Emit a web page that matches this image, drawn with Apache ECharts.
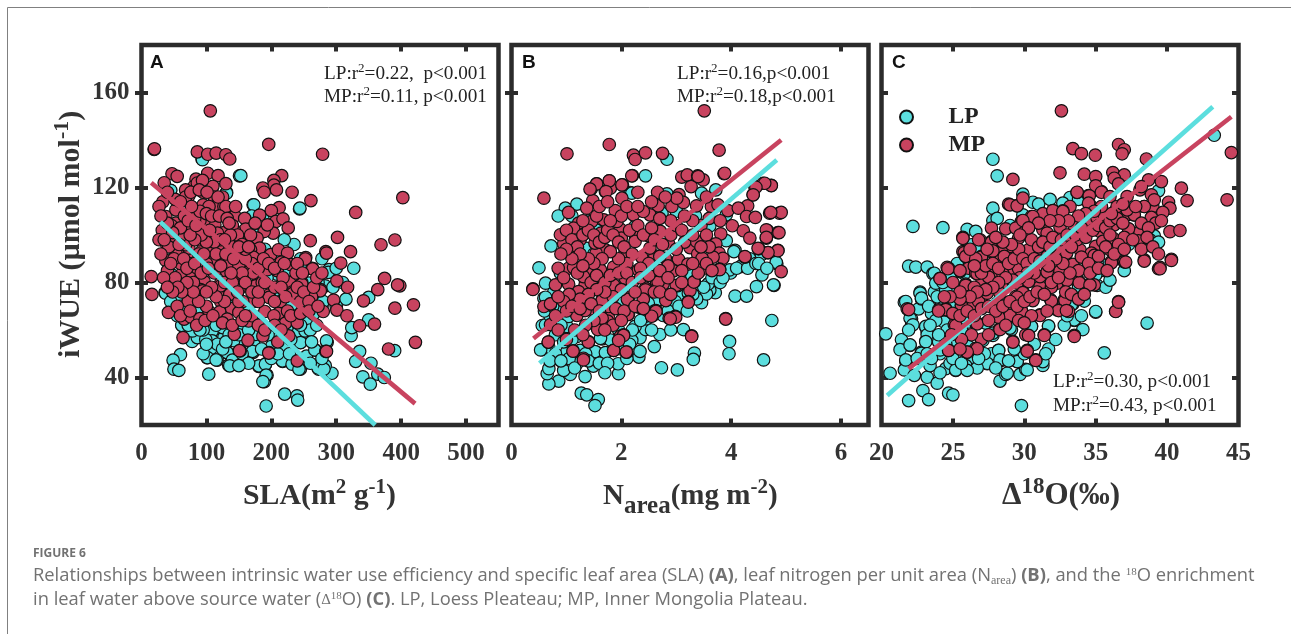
<!DOCTYPE html>
<html><head><meta charset="utf-8">
<style>html,body{margin:0;padding:0;background:#fff}#c{width:1291px;height:634px}</style>
<script src="https://cdn.jsdelivr.net/npm/echarts@6/dist/echarts.min.js"></script>
</head><body><div id="c"></div>
<script>
const slaMP=[[19.5,136],[86,135],[102,134],[115,134.5],[130,133.8],[136,132],[279,134],[47,125.8],[55,124.7],[35,122],[84,123.5],[102,126],[118,125],[130,121.6],[81,120.5],[110,120.5],[73,116.5],[95,118],[68,119],[112,116],[86,121.9],[94,123],[216,125],[204,123],[204,121],[187,119.8],[189,118],[208,119],[232,118],[261,114.5],[212,111.5],[200,110.3],[207,105.7],[218,106.8],[182,108.4],[226,103],[203,100.8],[189,101.5],[194,104.3],[260,97.6],[284,93],[33,114],[27,112],[37.4,107.8],[53,110.6],[53,105],[32,102],[27,98],[38.4,96.3],[68,101],[78.5,104.3],[86,102],[95,112.7],[114,112],[127,112],[144,108],[159,107],[160.5,102.5],[143,102],[127,101],[113,104.3],[96.4,106],[78.5,110.6],[68,108],[53,99.4],[45,98],[178,98.7],[182,94.5],[168,93.8],[199,91.7],[211,93.8],[225,92.4],[172,90.7],[215.4,88.6],[253,90.5],[263,86],[230,87.5],[209,85],[194,85.4],[228,80],[247,80],[276,77],[232,76],[60.5,93],[37.4,89.3],[76,91],[117,89.6],[40,85],[63,84],[76,84.7],[96.4,80.4],[131,84.7],[68,77],[91,77],[122,79.7],[176,79],[161,79],[145,82.5],[153,79],[15,82.5],[16,75],[196.5,74.8],[122,75],[86,86],[107,89.6],[135,88],[150,86.8],[166,84.7],[94,93.8],[107,94.5],[125,95],[140,96.6],[158,98],[104,99.4],[89,98],[73,94.5],[53,92.4],[68,95.9],[117,100.8],[68,76.8],[41.5,67.4],[94,76.5],[84,72.3],[122,72],[104,67.8],[120.5,67.6],[139,69],[65.6,64.6],[76,65.5],[90,64.8],[132,64.6],[165,63.8],[150,67.4],[173,72],[196.5,73.7],[214,72],[190,67.8],[211,67],[225,68],[238.5,66],[222,62.9],[240,63],[280,67.8],[253,71],[275.4,76.5],[247,79.3],[233,75.4],[176,78.6],[122,78.6],[150,77],[64,56.8],[143,58.2],[187,57.5],[164,55.7],[210,55],[152,51.2],[196.5,50.5],[240,47],[284,51],[227,57.5],[106,152.3],[20,136.3],[196,138.2],[330,109.5],[402.6,115.7],[302,99],[285,92.4],[322,93],[369,95.9],[390.4,97.9],[307,88.2],[301,80.7],[317.5,78],[374.5,81.7],[398,78.6],[394.5,79],[364,77],[342,72.3],[390.4,69.2],[419,70.6],[296,72.6],[301,68.4],[316.5,66],[336,61.8],[359,62.5],[380.6,52],[422,54.8],[285,51],[252.4,89.9],[263.7,85.7],[151,51.3],[196,50.3],[100,88],[112,84],[128,80],[80,80],[60,88],[52,82],[72,72],[100,70],[136,75],[156,72],[170,88],[186,80],[205,78],[218,82],[238,84],[148,92],[120,108],[135,96],[90,106],[104,112],[160,90],[180,72],[204,66],[245,72],[262,74],[46,104],[62,100],[74,88],[88,92],
[68,116],[76,118],[89,119],[101,118],[125,116],[130,112],[66,108],[70,104],[82,107],[90,110],[100,109],[108,108],[120,108],[132,107],[140,104],[148,100],[155,96],[160,94],[137,100],[122,98],[112,97],[100,97],[92,100],[82,98],[75,100],[60,103],[48,101],[40,105],[42,95],[50,90],[58,96],[65,90],[70,86],[82,88],[92,84],[103,86],[115,92],[122,87],[130,92],[142,90],[150,95],[172,84],[180,86],[188,90],[196,88],[205,86],[220,88],[240,88],[248,84],[155,84],[160,80],[170,76],[180,76],[190,80],[205,72],[215,78],[222,74],[240,78],[250,76],[258,72],[265,78],[140,80],[128,72],[115,74],[108,78],[100,76],[88,72],[80,76],[70,80],[62,76],[56,78],[48,76],[55,70],[60,66],[75,68],[85,62],[98,64],[110,66],[125,63],[140,62],[155,64],[170,66],[180,62],[190,60],[205,62],[215,60],[230,66],[245,67],[258,68],[272,70],[270,82],[278,84],[150,72],[160,66],[135,105],[145,112],[168,100],[175,105],[52,115],[40,118],[30,108],[35,98],[30,92],[45,88],[34,82],[40,78],[77,112],[60,114],[72,106],[118,116],[105,102],[96,92],[84,104],[128,98],[138,84],[148,76],[165,95]];
const slaLP=[[93.3,132],[151,124.9],[172,112.7],[243.5,111],[131,118],[44.6,118.7],[185.6,107.8],[62.6,112.7],[68,107.8],[153,125],[94,131.7],[45,118.8],[131,117.6],[173,112.7],[244,111.3],[187,106.8],[63,113.4],[36.4,75.8],[53,74],[58,80.4],[48,83],[243,86.8],[289,85.4],[258,79.7],[288,84.3],[327,86],[283,78.6],[315,73],[350,73.7],[268,74.4],[278,70],[350,64.3],[323,57.6],[324,61],[286,54.8],[336,51],[330,46.8],[353.5,46],[268,51.5],[364,41.4],[374,40],[341,40.3],[352.5,37.2],[390,51.3],[293.4,41.8],[283,45],[273,43.5],[244.7,43.5],[252.4,46.3],[237,45.6],[217.5,46.8],[245,54.8],[221.6,53.4],[252.4,59.7],[237,58.3],[191,45.6],[180.6,44.7],[172,50.6],[193.4,41],[189.3,38.3],[103.6,41.4],[140.6,47.7],[134.4,45.2],[116.5,47.3],[101,48.4],[107,52.2],[60,49.6],[48.7,47.3],[50,43.5],[57.5,43],[220.6,33],[239.6,32.3],[240.6,30.5],[192,28],[133,50.3],[119,49.8],[85.7,56.9],[78,55.2],[62.6,61.8],[78,60.4],[106,60.4],[121.6,56.9],[126.7,60.4],[152.4,54],[173,54],[201,53.4],[209,56.2],[37,75.5],[53.4,73],[47,80.7],[62.6,79.3],[78,68.8],[96,64.6],[106,58.3],[142,55.5],[183,59.7],[224,61],[255,64],[265,66.7],[224,85],[244.7,87],[209,83.5],[193.4,82],[203.7,73.7],[178,65.3],[142,73.7],[160,69.5],[86,56.8],[78.5,59.6],[62,62],[107,52.2],[101.5,48.4],[115,47.4],[132,50.5],[140,47.3],[136,44.9],[127,56.8],[109,59.6],[125,61],[171,51],[181,44.9],[191,45.6],[192,41],[187,38.3],[217,47],[232,45.6],[242.6,43.5],[272,44],[254,49],[267,51.6],[245,54.7],[252,59.6],[285,55.4],[222,53.3],[184,62.4],[155.4,59.6],[176,58.2],[281,43.5],[109,55.4],[117,54],[99,56],
[70,70],[60,70],[85,68],[95,60],[115,62],[135,58],[150,58],[165,60],[195,58],[210,62],[230,56],[260,60],[270,62],[280,72],[295,78],[300,86],[272,80],[258,86],[278,90],[245,90],[210,92],[190,94],[235,96],[220,98],[230,70],[245,62],[262,55],[278,48],[260,46],[300,70],[310,80],[155,50],[165,46],[185,52],[150,45],[125,52],[95,50],[90,60],[72,62],[55,66],[45,72],[40,82],[45,92],[100,54],[130,55],[200,48],[210,50],[228,50],[50,100],[65,115],[180,100],[170,108]];
const nMP=[[.59,115.5],[1.04,109.5],[1.45,119.4],[1.55,121.5],[1.78,122.8],[1.71,118.3],[1.8,119.7],[2.02,121.1],[2.01,115.5],[2.2,125],[2.3,118],[2.66,118],[2.67,112.3],[1.48,114.5],[1.37,111.3],[1.89,110.3],[1.46,105.7],[1.22,105],[1.13,102.9],[2.22,108.5],[2.52,108.5],[2.4,109.9],[2.92,112],[3.1,124.4],[3.2,125.3],[3.39,124.9],[3.49,123.2],[3.27,120.4],[3.87,125.8],[3.05,117],[3.13,113.7],[3.01,115.5],[3.37,112.3],[3.64,112],[3.76,112.7],[3.94,110.3],[4.3,112.3],[4.13,111.3],[4.28,107.8],[4.44,107.4],[4.02,103.9],[4.22,101.8],[4.34,98.7],[4.7,109.2],[4.88,109.2],[4.43,120.4],[4.58,121.8],[4.73,120.9],[4.4,117],[4.66,101.9],[4.85,101],[4.64,98.7],[4.5,94.2],[4.67,92.6],[4.85,93.5],[4.91,84.6],[3.81,100.5],[3.72,96.3],[3.78,92.4],[3.85,90.2],[3.67,90.7],[3.79,85.6],[4.25,90.7],[3.25,94.7],[3.37,97.3],[3.39,92],[3.47,90.2],[3.04,89.8],[3.21,87.7],[2.95,84.9],[3.33,80.4],[3.03,78.7],[3.25,76.6],[3.22,72],[2.64,80.4],[2.76,79.4],[2.44,77.6],[2.81,72.7],[2.63,68.2],[2.57,66],[2.98,65.7],[2.87,65],[3.9,64.8],[3.28,57.5],[2.04,58],[1.86,51.4],[2.1,50.7],[1.4,55.1],[1.12,51.2],[.67,54.9],[1.31,48.1],[1.57,60.5],[1.98,57.3],[2.13,66.7],[1.19,66.4],[.71,70.9],[.59,69.9],[.39,77.3],[.8,79],[1.04,79.3],[1.13,73],[1.34,68.5],[1.65,72.7],[1.77,65],[2.13,73.8],[1.86,79],[1.49,81.1],[2.07,81.8],[1.34,79],[1.04,86],[1.13,86.3],[1.37,88.8],[1.71,93.7],[1.54,92.4],[2.06,92.1],[1.86,86.5],[1.63,100.8],[1.98,102.5],[1.25,98],[.95,96.3],[1.15,93.7],[.89,100.1],[2.48,99.8],[2.25,100.1],[2.71,101.5],[2.86,96.3],[2.61,91.2],[2.37,90.7],[2.25,97.3],[2,98.7],[2.52,94.5],[2.8,90.2],[2.31,85.3],[1.52,96.6],[1.68,106.4],[1.92,105.7],[1.43,85.3],[1.31,82.5],[1.62,85.3],[1.22,76.2],[1.77,69.9],[1.49,68.5],[1.77,73.4],[3.51,152.3],[1.78,138.1],[1.01,134.2],[2.22,133.6],[2.25,131.8],[2.44,134.6],[2.75,134.4],[3.78,135.7],[3.88,126],[2.19,124.9],[1.78,122.8],[1.55,121.5],[1.43,119.3],[2.01,121.1],[1.72,118.3],[4.73,120.8],[4.61,121.8],[4.45,120.1],[4.4,116.9],[3.4,124.6],[4.91,109.5],[4.72,109.5],[4.64,102.2],[4.87,101],[4.64,99],[4.85,93.4],[4.67,92.6],[4.49,94.4],[4.25,90.9],[.39,77.1],[.71,71],[.67,54.9],[1.12,51.1],[1.31,47.4],[1.4,54.9],[1.57,60.2],[1.86,51.4],[2.09,50.7],[2.04,57.7],[1.95,55.6],[2.99,65.4],[2.89,64.7],[3.22,71.7],[3.32,80.2],[3.28,57.3],[3.9,64.6],[3.79,85.4],[1.19,66.1],[.71,62.3],[2.63,67.8],[2.55,65.8],[2.81,72.4],[2.44,76.9],[2.11,72.9],[2.12,66.5],[1.75,63.7],[1.34,68.2],[1.65,72.4],[2.67,80.2],[3,78.8],
[1,102],[1.1,98],[1.2,95],[1.3,100],[1.4,102],[1.5,100],[1.6,97],[1.7,99],[1.75,102],[1.85,100],[1.95,97],[2.05,95],[2.15,102],[2.3,104],[2.4,100],[2.55,103],[2.6,98],[2.75,96],[2.9,100],[3,104],[3.1,102],[3.15,97],[3,94],[3.3,100],[3.45,104],[3.55,100],[3.6,95],[3.5,86],[3.4,84],[3.1,85],[2.85,87],[2.7,91],[2.5,88],[2.35,86],[2.2,92],[2.1,88],[1.95,90],[1.8,93],[1.65,90],[1.5,88],[1.4,90],[1.25,92],[1.1,90],[1,94],[.9,92],[.85,86],[.95,82],[1.2,84],[1.3,87],[1.45,80],[1.55,83],[1.7,80],[1.8,83],[1.95,84],[2.1,84],[2.2,80],[2.35,82],[2.5,83],[2.7,85],[2.85,82],[2.6,76],[2.4,73],[2.25,76],[2,77],[1.85,74],[1.7,76],[1.55,77],[1.4,75],[1.25,73],[1.05,75],[.95,72],[.85,74],[1,68],[1.1,70],[1.25,69],[1.45,71],[1.6,68],[1.9,69],[2.05,68],[2.25,70],[2.4,69],[1.65,65],[1.5,64],[1.35,62],[1.15,60],[1.85,62],[2,64],[1.7,60],[1.3,58],[1,56],[.85,60],[.8,66],[2.7,76],[2.9,75],[3.1,80],[3.3,88],[3.55,88],[3.65,85],[3.45,95],[3.3,106],[3.15,108],[2.9,106],[2.7,107],[2,108],[1.8,106],[1.55,108],[1.3,106],[2.1,112],[2.3,112],[1.6,112],[1.75,114],[2.55,114],[2.8,116],[3.6,107],[3.8,106],[3.55,116]];
const nLP=[[.5,86.2],[3.59,79.5],[3.71,75.7],[3.46,71.5],[3.99,84],[4.56,83.2],[4.46,78.3],[4.78,78.8],[4.07,74.3],[4.28,74.3],[4.83,87.9],[4.74,64],[3.97,55.2],[3.96,50],[4.59,47.4],[3.33,50.3],[3.31,47.6],[2.73,44.1],[3.02,43.2],[3.13,60.2],[2.7,58.1],[2.34,56.7],[2.44,60.2],[2.32,48.6],[2.34,51],[1.95,41.6],[1.94,45.8],[1.49,44.8],[1.34,40.4],[1.07,41.3],[.86,38.5],[.68,37.3],[.65,41.6],[.68,43.7],[.89,47.2],[.56,51.7],[1.27,33.4],[1.37,32.7],[1.58,30.7],[1.52,28.2],[1.19,45.8],[.95,43],[1.71,50.3],[1.54,50.7],[1.65,56.3],[2.19,55.6],[.59,73.4],[.77,76],[.56,61.9],[.68,52.8],[.89,58.4],[1.1,51.4],[1.25,51.4],[2.46,64.7],[2.76,66.1],[2.31,69.6],[2.89,73.1],[2.64,71.7],[3.43,85.1],[3.1,74.5],[3.61,76.7],[3.55,75.2],[3.37,73.1],[4.19,86.9],[4.34,90],[4.07,93.5],[4.52,93.5],[2.83,131.9],[2.44,124.9],[3.46,117.6],[3.72,119],[2.83,117.3],[2.16,117.9],[1.19,113],[.98,111.3],[1.42,106],[.72,95.4],[2.73,108.5],[3.91,108.5],[3.61,103.8],[3.91,97.6],[4.05,93],[2.25,103.6],[1.37,94.4],[4.82,88.5],[4.17,86.7],[3.97,85.3],[.62,79.7],[.62,73.8],[.89,84],[2.74,109.2],[4.55,91.7],[4.77,79],[3.58,79.4],[3.43,85.3],[3.28,83.2],[3.22,75.5],[2.98,72],[2.67,72.7],[2.49,71.3],[2.31,69.9],[2.01,71.3],[2.43,65.7],[2.25,61.5],[1.95,60],[1.8,55.8],[1.62,56.5],[1.52,50.9],[1.71,50.5],[.86,58.7],[1.01,61.5],[.62,62.2],[.77,64.3],[.53,51.6],[1.01,51],[2.19,117.6],[.86,68.5],[1.04,65.7],[1.19,57.3],
[.7,66],[.8,58],[.95,55],[1.1,56],[1.35,50],[1.4,47],[1.6,46],[1.75,46],[2,52],[2.15,54],[2.2,60],[2.35,64],[2.55,60],[2.6,68],[2.85,68],[3.05,70],[3.2,68],[3.3,75],[3.5,78],[3.65,82],[3.8,80],[3.85,82],[4.1,86],[4.3,86],[4.45,88],[.6,68],[.75,70],[.9,62],[1.05,48],[1.15,44],[.8,50],[.7,47],[.9,47],[1.7,42],[2.1,48],[2.6,53],[1.5,92],[.85,108],[1.1,108],[1.25,103],[.95,100],[1.55,102],[3,110],[3.35,108],[4.5,88],[4.65,86],[2.9,60]];
const o18MP=[[28.9,113],[29.5,112.4],[33.7,117.9],[34.5,116.6],[35.4,118.3],[34.6,112.7],[33.2,112],[32.7,110.2],[32,110.2],[31.3,109],[30.5,107.8],[29.8,105.7],[28.7,102.6],[29.4,102.9],[30,101.1],[31.3,102.2],[31.7,99.4],[32.5,103.3],[33.5,103.6],[34.4,105.7],[35.1,107.1],[35.6,108.5],[36.4,110.3],[37.2,108.5],[37.7,108.5],[38.4,112],[39,112],[37.2,116.2],[38.1,119],[36.3,104.3],[35.3,101.5],[37.3,102.5],[38,97.3],[38.1,100.8],[37,88.8],[38.4,89.5],[36.1,88.8],[36,93.8],[35,95.2],[34,91],[33.4,87.4],[32.5,85.3],[32.97,81.1],[31.6,84.6],[30.5,86],[29.7,93],[29,91.7],[28.4,90.2],[27.7,93],[27,91],[26.9,98],[25.7,99],[25.7,93],[25.9,91],[26.1,86],[26.6,83.9],[24.7,86],[24.1,81.8],[25.9,79.3],[27.5,82.2],[27,79.7],[28.4,79],[29.4,74.1],[29.9,76.2],[30.6,72.7],[31.85,72.7],[32.8,72.7],[33.85,80.4],[34.6,79.3],[34.9,79],[31.9,78.3],[31.1,78.3],[31.1,66.4],[29.8,68.2],[29,66.8],[28.2,65.7],[26.4,71],[25.6,70.3],[24.5,68.9],[24,68.5],[21.8,68.9],[32.3,68.5],[33.1,67.8],[25.1,62.2],[28.25,60.4],[27,56.1],[29.2,55.2],[30.1,58],[31.4,58],[30.2,51.4],[30.8,47.4],[26.6,52.3],[26,50.7],[24.7,51.4],[33.5,57.7],[36.4,67.9],[36.6,72],[39.4,85.8],[27,73.4],[28.1,71.3],[26.8,72],[28.8,70.6],[27.4,75.5],[28.3,75.5],[29.5,79.7],[30.3,80.4],[31.1,82.5],[32.3,79.7],[30.9,92.4],[30.3,93.8],[31.6,91],[32.3,94.5],[32.97,92.4],[33.9,93.8],[34.7,92.4],[35.5,97.3],[36.2,98.7],[33.7,98],[31.6,100.8],[30.5,98],[29.6,98.7],[29,95.2],[28.4,94.5],[27.6,86],[28.3,83.9],[29.2,85.3],[29.9,86],[31.9,87.4],[34.8,85.3],[33.4,81.8],[32.6,152.3],[33.4,136.4],[34,134.3],[34.97,133.6],[36.6,138.1],[37,135.9],[36.85,134.2],[38.55,132],[44.5,134.7],[44.2,114.8],[29.2,123.4],[32.5,126.2],[34.2,125.6],[35,124.6],[36.2,126.3],[37,125.3],[36.3,123.9],[36.6,121.5],[35,120.7],[35.4,118],[33.7,118],[34.55,116.5],[34.5,113.4],[38.7,123.2],[39.6,122.5],[41,119.7],[41.4,114.5],[38.2,120.4],[38.9,116.9],[39.1,114.8],[40.1,113.8],[40.2,111.3],[39.7,109.5],[38.4,112],[37.7,108.5],[38.9,107.4],[39.2,105],[40.2,101.4],[40.9,101.9],[38.1,101.4],[38,97.5],[37.3,102.6],[37.2,110.6],[36,116.2],[36.5,112],[29,112.7],[29.5,112.3],[29.9,115.5],[32,110.3],[32.7,109.9],[30.6,107.8],[29.9,106.1],[27.7,102.9],[25.7,98.6],[26.8,98],[27.7,97],[27.8,93.3],[25.8,92.6],[25.9,91],[24.6,86.4],[27,90.2],[37,88.8],[40.3,89.8],[39.5,86.4],[24.65,85.8],[24.1,81.6],[25.9,78.8],[21.9,68.6],[24.5,68.6],[24,68],[25.6,70.3],[24.7,51.4],[26.7,52.1],[26,50.7],[29.2,54.9],[30.3,57.7],[31.4,57.7],[30.2,51.1],[30.8,47.2],[33.5,57.3],[36.4,67.8],[36.6,71.7],[28.3,60.2],[25.2,61.9],[26.7,83.7],[27.5,82.3],[27,90.7],[28.5,83.7],[29.6,85.8],[31.6,84.4],[32.5,84.8],[33.4,87.6],[33,80.9],[33.85,79.9],[34.6,79],[36.1,88.3],[37.1,88.6],[38.4,89],[39.5,85.8],[40.3,89.3],[34.9,91.4],[34,90.7],[31.9,78],[29.9,75.7],[30.6,72.4],[29.5,73.8],[31.9,72.2],[32.85,72.4],[32.4,68.2],[32.95,68.2],[31.1,66.1],[29.8,68],[29,66.1],[28.2,65.4],[26.7,62.6],
[26,74],[26.5,78],[27,84],[27.3,87],[27.8,88],[28.2,86],[28.6,91],[28.9,88],[29.3,90],[29.6,94],[29.9,90],[30.2,88],[30.7,90],[31,95],[31.3,97],[31.8,95],[32,99],[32.6,98],[33,100],[33.3,95],[33.6,100],[34,103],[34.3,99],[34.8,102],[35.2,104],[35.7,103],[36,106],[36.5,107],[36.9,105],[37,99],[36.6,96],[36,100],[35.7,95],[35.2,91],[34.5,88],[33.8,85],[33.2,84],[32.7,88],[32.2,90],[31.7,87],[31.1,89],[30.7,84],[30.2,84],[29.7,82],[29.2,81],[28.7,82],[28.2,80],[27.8,78],[27.3,77],[26.7,76],[26.2,74],[25.5,73],[25,67],[25.5,66],[26,68],[26.5,66],[27,69],[27.5,70],[28,68],[28.5,70],[29,72],[29.5,70],[30,72],[30.4,74],[30.9,76],[31.4,75],[31.9,80],[32.4,82],[32.9,76],[33.3,75],[33.8,73],[34.2,75],[34.6,84],[35.2,86],[35.8,85],[36.3,92],[37,94],[37.6,98],[38.2,105],[38.7,103],[39.6,106],[37.8,112],[36.9,113],[36.1,109],[35.4,112],[34.9,110],[34.3,109],[33.8,108],[33.1,106],[32.4,106],[31.8,106],[31,105],[30.3,103],[29.7,100],[29.1,96],[28.5,97],[28,99],[27.4,94],[26.6,90],[26.2,94],[26.5,87],[25.5,85],[25,80],[25.5,76],[24.8,74],[24.4,74],[27.5,64],[28.7,62],[29.6,64],[30.5,66],[30,63],[31.6,68],[26.3,58],[27.5,58],[25.6,56],[24.9,58],[25.5,52],[38.2,94],[38.6,99],[39,95],[39.4,92]];
const o18LP=[[20.3,58.4],[20.6,41.8],[21.4,55.9],[22,53.5],[21.3,51.7],[21.7,46.9],[21.6,43.2],[22.3,40.9],[21.9,30.3],[22.9,34.5],[23.3,30.7],[23.2,40.1],[23.9,37.6],[24.7,33.4],[25,32.7],[23.4,45],[23.1,55.3],[22.8,50.7],[23.2,59.1],[23.4,57.7],[24.1,50],[24.5,43.7],[24.9,46],[25.2,43],[22.1,61.9],[22.1,64.7],[22.6,68.9],[21.6,71.7],[22.7,76],[22.8,73.1],[21.9,86.9],[22.4,86.5],[23.2,86.5],[23.6,83.7],[23.9,79.5],[23.7,76],[23.1,61.2],[24.2,71.7],[24.4,63.3],[23.6,66.8],[25.5,50],[26.1,47.9],[27.4,45.8],[28.4,47.2],[28.3,38.5],[28.7,41.3],[29.7,41.3],[30.1,43.4],[29.5,46.9],[28.2,51.4],[27.7,50],[27.1,55.6],[29.8,28.2],[31.1,46.9],[31.3,45.1],[31.7,61.5],[30.5,61.5],[29.1,60.1],[27.8,57.7],[33.5,64],[34.1,60.2],[34.2,72.2],[33.4,71],[35,67.5],[38.6,62.9],[35.6,50.4],[35.5,85.1],[35.1,78.8],[33.8,78],[25.8,83.7],[25.2,78],[24.6,77.4],[25.5,75.2],[26,63.3],[25.1,55.6],[27.8,131.9],[28.1,124.9],[29.9,117.2],[30.6,113.8],[27.8,111.3],[27.8,106.1],[22.2,103.6],[24.3,103.1],[26,102.4],[26.6,101.5],[33.2,115.8],[32.7,113.4],[39.1,99.6],[43.3,142],[39.4,118.6],[37.2,112.7],[28.3,96.5],[29,95.8],[26.9,93.7],[26.3,89.5],[25.7,86],[35.5,87.4],[35.1,88.1],[29.9,108.5],[23.7,83.9],[23.8,79.7],[22.7,75.5],[22.8,73.4],[21.7,72],[22,65],[22.2,62.2],[23.1,61.5],[23.2,58],[23.1,55.1],[22,53.7],[21.7,47.4],[22.8,50.2],[23.5,67],[24.2,72],[24.7,77.6],[25.5,84.6],[26.3,95.9],[27.7,97.3],[28.3,95.2],[25.6,60],[26.1,53],[25.2,50.2],[24.8,46],[25.2,43.2],[24.1,51.6],[27.4,46],[28.2,51.4],[28.8,41.8],[30.2,43.2],[29.5,46.7],[31.3,46.7],[28.3,47.4],[27.8,58.7],[27.3,62.9],[29,60.8],[30.5,61.5],[31.7,61.7],[33.5,64.3],[35,67.8],[35,83.2],[33.3,70.6],[26.6,62.9],[23.9,74],[24.5,76.9],
[21.9,60],[22.5,48],[23.5,48],[24,55],[24.6,60],[25,48],[25.9,45],[26.7,44],[27.2,50],[28,44],[28.9,47],[30,50],[30.7,54],[31.7,52],[32.2,56],[32.8,62],[33,66],[34,66],[23.3,70],[23.8,64],[24,58],[24.5,54],[24.3,80],[24.8,82],[25,70],[23.4,62],[23.2,50],[24.1,42],[26,43],[26.8,48],[25.6,46],[25.3,88],[26.6,94],[28.1,107],[29,104],[31,113],[31.8,115],[33.8,115],[36,108],[36.5,90],[37.3,96],[38.8,98],[39.4,97],[35.7,78],[36,81],[37,85],[31.5,50],[29.3,52]];
const slaFitLP=[[29,105.5],[360,20]], slaFitMP=[[15,122],[421.5,29]];
const nFitLP=[[.51,46],[4.83,131.6]], nFitMP=[[.4,56.4],[4.91,140]];
const o18FitLP=[[20.4,32.4],[43.2,154]], o18FitMP=[[21.9,43.7],[44.5,149.8]];
const xTicksA=[0,100,200,300,400,500], xTicksB=[0,2,4,6], xTicksC=[20,25,30,35,40,45], yTicks=[40,80,120,160];
const statsA=['0.22,  p<0.001','0.11, p<0.001'], statsB=['0.16,p<0.001','0.18,p<0.001'], statsC=['0.30, p<0.001','0.43, p<0.001'];

const CY='#5cdede', RD='#c8435f', INK='#2b2b2b';
const SERIF='"Liberation Serif"', CAPF='"Open Sans"';
const ctx=document.createElement('canvas').getContext('2d');
function run(x,y,parts,fill,out){ // parts: [text,size,dy,weight,family]; y is the baseline
  parts.forEach(p=>{
    const w=p[3]||'normal',f=p[4]||SERIF,font=w+' '+p[1]+'px '+f;
    out.push({type:'text',x:x,y:y+(p[2]||0)-0.3*p[1],z:50,style:{text:p[0],font:font,fill:fill,verticalAlign:'middle',align:'left'}});
    ctx.font=font;x+=ctx.measureText(p[0]).width;
  });
  return out;
}
const panels=[
 {left:141.5,w:357,xmin:0,xmax:550,ticks:xTicksA,lp:slaLP,mp:slaMP,fl:slaFitLP,fm:slaFitMP},
 {left:511.5,w:357,xmin:0,xmax:6.5,ticks:xTicksB,lp:nLP,mp:nMP,fl:nFitLP,fm:nFitMP},
 {left:881.5,w:357,xmin:20,xmax:45,ticks:xTicksC,lp:o18LP,mp:o18MP,fl:o18FitLP,fm:o18FitMP}];
const grid=[],xAxis=[],yAxis=[],series=[];
const tick={show:true,inside:true,length:6.5,lineStyle:{color:INK,width:4}};
const lab={color:'#333',fontFamily:SERIF,fontWeight:'bold',fontSize:25};
panels.forEach((p,i)=>{
  grid.push({left:p.left,width:p.w,top:45,height:380,show:true,borderColor:INK,borderWidth:4.5,backgroundColor:'#fff'});
  const inner=p.ticks.slice(1,p.xmin===20?-1:undefined);
  xAxis.push({type:'value',gridIndex:i,min:p.xmin,max:p.xmax,position:'bottom',splitLine:{show:false},axisLine:{show:false},
    axisTick:Object.assign({},tick,{customValues:inner}),axisLabel:Object.assign({},lab,{margin:16,customValues:p.ticks,showMinLabel:true,showMaxLabel:true,hideOverlap:false})});
  xAxis.push({type:'value',gridIndex:i,min:p.xmin,max:p.xmax,position:'top',splitLine:{show:false},axisLine:{show:false},
    axisTick:Object.assign({},tick,{customValues:inner}),axisLabel:{show:false}});
  yAxis.push({type:'value',gridIndex:i,min:20,max:180,position:'left',splitLine:{show:false},axisLine:{show:false},
    axisTick:Object.assign({},tick,{customValues:yTicks}),axisLabel:i===0?Object.assign({},lab,{margin:12,customValues:yTicks}):{show:false}});
  yAxis.push({type:'value',gridIndex:i,min:20,max:180,position:'right',splitLine:{show:false},axisLine:{show:false},
    axisTick:Object.assign({},tick,{customValues:yTicks}),axisLabel:{show:false}});
  const xi=i*2,yi=i*2;
  const pt=c=>({color:c,borderColor:'#111',borderWidth:1.2,opacity:1});
  series.push({name:'LP',type:'scatter',xAxisIndex:xi,yAxisIndex:yi,data:p.lp,symbolSize:12.5,itemStyle:pt(CY),silent:true,animation:false,large:false});
  series.push({name:'MP',type:'scatter',xAxisIndex:xi,yAxisIndex:yi,data:p.mp,symbolSize:12.5,itemStyle:pt(RD),silent:true,animation:false,large:false});
  const ln=(n,d,c)=>({name:n,type:'line',xAxisIndex:xi,yAxisIndex:yi,data:d,showSymbol:false,symbol:'none',lineStyle:{color:c,width:4.6,cap:'butt'},silent:true,animation:false,z:3});
  series.push(ln('LP fit',p.fl,CY));
  series.push(ln('MP fit',p.fm,RD));
});

const g=[];
g.push({type:'line',shape:{x1:7.5,y1:7.5,x2:1291,y2:7.5},style:{stroke:'#808080',lineWidth:1}});
g.push({type:'line',shape:{x1:7.5,y1:7.5,x2:7.5,y2:634},style:{stroke:'#808080',lineWidth:1}});
[['A',150],['B',522],['C',892]].forEach(a=>run(a[1],68,[[a[0],19,0,'bold','"Liberation Sans"']],'#111',g));
function stat(x,y,tag,s){run(x,y,[[tag+':r',19.2],['2',13,-8],['='+s,19.2]],'#222',g);}
stat(324,80,'LP',statsA[0]);stat(324,103,'MP',statsA[1]);
stat(677,80,'LP',statsB[0]);stat(677,103,'MP',statsB[1]);
stat(1053,388,'LP',statsC[0]);stat(1053,412,'MP',statsC[1]);
const B='bold';
run(243,505,[['SLA(m',29.8,0,B],['2',21,-11,B],[' g',29.8,0,B],['-1',21,-11,B],[')',29.8,0,B]],'#333',g);
run(603,505,[['N',29,0,B],['area',25,9,B],['(mg m',29,0,B],['-2',21,-11,B],[')',29,0,B]],'#333',g);
run(1002,505,[['Δ',31,0,B],['18',23,-11,B],['O(‰)',31,0,B]],'#333',g);
const yt=[];run(0,0,[['iWUE (µmol mol',30,0,B],['-1',22,-11,B],[')',30,0,B]],'#333',yt);
g.push({type:'group',x:80,y:358,rotation:Math.PI/2,children:yt,z:50});
const CAP='#727272',SZ=18.35;
run(33,557,[['FIGURE 6',12,0,'bold',CAPF]],CAP,g);
run(33,581,[['Relationships between intrinsic water use efficiency and specific leaf area (SLA) ',SZ,0,'normal',CAPF],['(A)',SZ,0,'bold',CAPF],[', leaf nitrogen per unit area (N',SZ,0,'normal',CAPF],['area',12,3,'normal',SERIF],[') ',SZ,0,'normal',CAPF],['(B)',SZ,0,'bold',CAPF],[', and the ',SZ,0,'normal',CAPF],['18',11,-6,'normal',SERIF],['O enrichment',SZ,0,'normal',CAPF]],CAP,g);
run(33,605,[['in leaf water above source water (',SZ,0,'normal',CAPF],['Δ',15,0,'normal',SERIF],['18',11,-6,'normal',SERIF],['O) ',SZ,0,'normal',CAPF],['(C)',SZ,0,'bold',CAPF],['. LP, Loess Pleateau; MP, Inner Mongolia Plateau.',SZ,0,'normal',CAPF]],CAP,g);

const chart=echarts.init(document.getElementById('c'),null,{renderer:'canvas'});
chart.setOption({animation:false,backgroundColor:'#fff',grid,xAxis,yAxis,series,graphic:{elements:g},
 legend:{data:['LP','MP'],orient:'vertical',left:894,top:100,selectedMode:false,itemWidth:50,itemHeight:13,itemGap:4,
   textStyle:{fontFamily:SERIF,fontWeight:'bold',fontSize:23.5,color:'#222',padding:[0,0,0,12]}}});
</script></body></html>
